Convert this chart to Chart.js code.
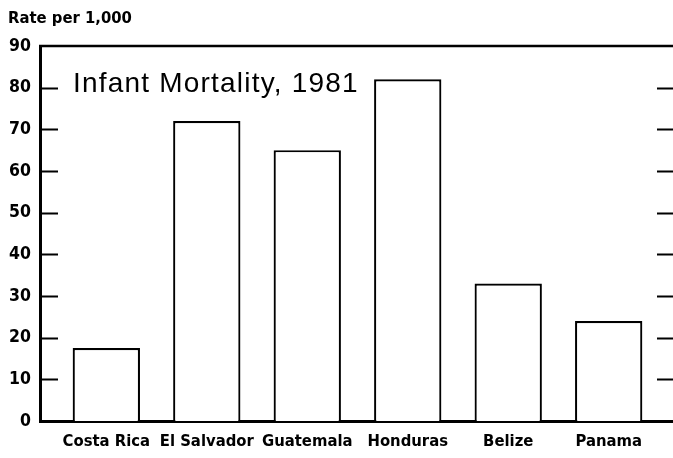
<!DOCTYPE html>
<html>
<head>
<meta charset="utf-8">
<script src="https://cdn.jsdelivr.net/npm/chart.js@4"></script>
<style>
html,body{margin:0;padding:0;background:#fff;}
#wrap{width:673px;height:458px;position:relative;}
</style>
</head>
<body>
<div id="wrap"><canvas id="c" width="673" height="458"></canvas></div>
<script>
const categories = ["Costa Rica", "El Salvador", "Guatemala", "Honduras", "Belize", "Panama"];
const rates = [17.5, 72, 65, 82, 33, 24];
const yTicks = [0, 10, 20, 30, 40, 50, 60, 70, 80, 90];
const chartTitle = "Infant Mortality, 1981";
const unitLabel = "Rate per 1,000";

const boldFont = "'Liberation Sans Narrow', 'DejaVu Sans Condensed', 'Liberation Sans', sans-serif";

const decor = {
  id: 'decor',
  afterDraw(chart) {
    const ctx = chart.ctx;
    const a = chart.chartArea;
    const y = chart.scales.y;
    ctx.save();
    ctx.strokeStyle = '#000';
    // top frame line
    ctx.lineWidth = 2.5;
    ctx.beginPath();
    ctx.moveTo(a.left - 1, a.top);
    ctx.lineTo(a.right + 2, a.top);
    ctx.stroke();
    // inner ticks left and right
    ctx.lineWidth = 2;
    yTicks.forEach(v => {
      if (v === 0 || v === 90) return;
      const py = Math.round(y.getPixelForValue(v)) + 0.5;
      ctx.beginPath();
      ctx.moveTo(a.left, py);
      ctx.lineTo(a.left + 18, py);
      ctx.moveTo(a.right - 15, py);
      ctx.lineTo(a.right + 2, py);
      ctx.stroke();
    });
    // unit label
    ctx.fillStyle = '#000';
    ctx.font = "bold 16.5px " + boldFont;
    ctx.textBaseline = 'middle';
    ctx.textAlign = 'left';
    ctx.fillText(unitLabel, 8, 19);
    // title inside plot
    ctx.font = "28px 'Liberation Sans', Arial, sans-serif";
    try { ctx.letterSpacing = '1.2px'; } catch (e) {}
    ctx.fillText(chartTitle, a.left + 33, y.getPixelForValue(80.7));
    ctx.restore();
  }
};

new Chart(document.getElementById('c'), {
  type: 'bar',
  data: {
    datasets: [{
      data: rates.map((v, i) => ({ x: i, y: v })),
      backgroundColor: '#ffffff',
      borderColor: '#000000',
      borderWidth: 2.2,
      categoryPercentage: 1,
      barPercentage: 0.67
    }]
  },
  options: {
    responsive: false,
    animation: false,
    devicePixelRatio: 1,
    layout: { padding: { left: 0, right: 1, top: 46, bottom: 0 } },
    plugins: { legend: { display: false }, tooltip: { enabled: false }, title: { display: false } },
    scales: {
      x: {
        type: 'linear',
        offset: false,
        min: -0.66,
        max: 5.63,
        afterBuildTicks: s => { s.ticks = categories.map((c, i) => ({ value: i })); },
        afterFit: s => { s.height = 37; },
        grid: { display: false, drawTicks: false },
        border: { display: true, color: '#000', width: 3 },
        ticks: {
          autoSkip: false,
          maxRotation: 0,
          padding: 11,
          color: '#000',
          font: { family: boldFont, size: 16.5, weight: 'bold' },
          callback: v => categories[v]
        }
      },
      y: {
        min: 0,
        max: 90,
        afterBuildTicks: s => { s.ticks = yTicks.map(v => ({ value: v })); },
        afterFit: s => { s.width = 40; },
        grid: { display: false, drawTicks: false },
        border: { display: true, color: '#000', width: 3 },
        ticks: {
          padding: 9,
          color: '#000',
          font: { family: boldFont, size: 17.5, weight: 'bold' }
        }
      }
    }
  },
  plugins: [decor]
});
</script>
</body>
</html>
